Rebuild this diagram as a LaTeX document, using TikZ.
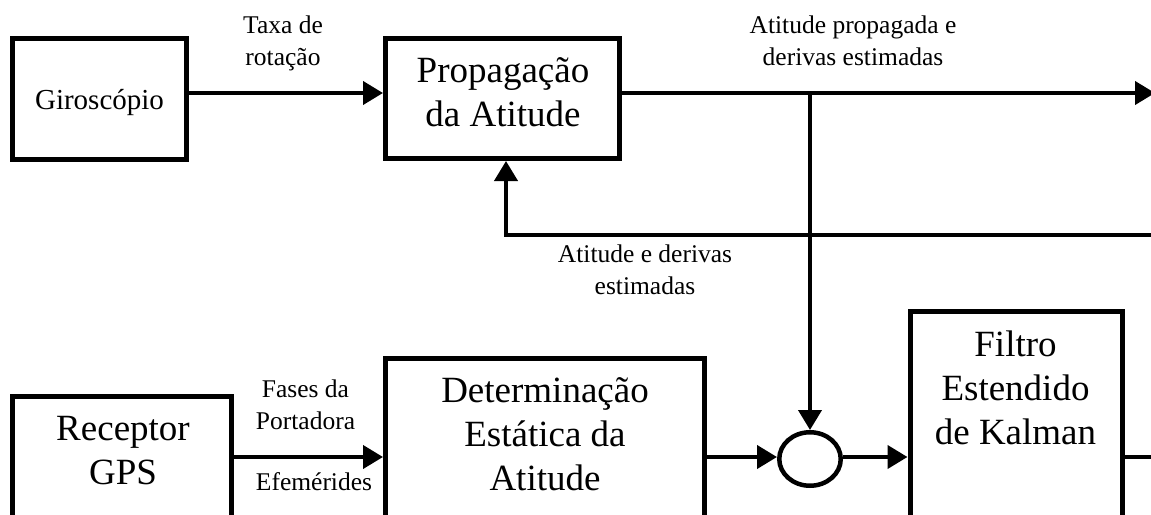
\documentclass[tikz,border=0pt]{standalone}
\usepackage{fontspec}
\setmainfont{Liberation Serif}
\usetikzlibrary{arrows.meta,shapes.geometric}
\tikzset{
  blk/.style={draw, line width=5pt, rectangle, inner sep=0pt},
  circnode/.style={draw, line width=4.5pt, ellipse, inner sep=0pt, minimum width=61.5pt, minimum height=53.5pt},
  wire/.style={line width=4pt},
  arr/.style={line width=4pt, -{Triangle[length=20pt,width=23pt]}},
  bigtxt/.style={font=\fontsize{37}{44}\selectfont, align=center, inner sep=0pt, anchor=north},
  labtxt/.style={font=\fontsize{25.5}{32}\selectfont, align=center, inner sep=0pt, anchor=north},
}
\begin{document}
\begin{tikzpicture}[x=1pt,y=-1pt]
\useasboundingbox (0,0) rectangle (1151,514);
\clip (0,0) rectangle (1151,514);
% boxes
\node[blk, minimum width=174pt, minimum height=121pt] (giro) at (99.5,99) {};
\node[blk, minimum width=233.5pt, minimum height=120pt] (prop) at (502.25,98.5) {};
\node[blk, minimum width=219pt, minimum height=164pt] (rec) at (122,478) {};
\node[blk, minimum width=319pt, minimum height=202pt] (det) at (545,459) {};
\node[blk, minimum width=212pt, minimum height=248.5pt] (fil) at (1016,435.75) {};
\node[circnode] (circ) at (810,459) {};
% box texts
\node[inner sep=0pt, anchor=base, font=\fontsize{29}{35}\selectfont] (tgiro) at (99.5,109) {Giroscópio};
\node[bigtxt] (tprop) at (503,51.2) {\strut Propagação\\\strut da Atitude};
\node[bigtxt] (trec) at (123,409.2) {\strut Receptor\\\strut GPS};
\node[bigtxt] (tdet) at (545,371.2) {\strut Determinação\\\strut Estática da\\\strut Atitude};
\node[bigtxt] (tfil) at (1015.5,325.2) {\strut Filtro\\\strut Estendido\\\strut de Kalman};
% labels
\node[labtxt] (ltaxa) at (283,10.6) {\strut Taxa de\\\strut rotação};
\node[labtxt] (lprop) at (853,10.6) {\strut Atitude propagada e\\\strut derivas estimadas};
\node[labtxt] (lfb) at (645,239.6) {\strut Atitude e derivas\\\strut estimadas};
\node[labtxt] (lfases) at (305.5,374.6) {\strut Fases da\\\strut Portadora};
\node[inner sep=0pt, anchor=base, font=\fontsize{25.5}{32}\selectfont] (lefem) at (314,490) {Efemérides};
% helper coordinates
\coordinate (yt) at (0,93);
\coordinate (yl) at (0,457);
\coordinate (outT) at (1155,93);
\coordinate (outR) at (1160,457);
\coordinate (split) at (810,93);
\coordinate (fbR) at (1160,235);
\coordinate (fbL) at (506,235);
% connectors
\draw[arr] (giro.east |- yt) -- (prop.west |- yt);
\draw[arr] (prop.east |- yt) -- (outT);
\draw[arr] (split) -- (circ.north);
\draw[arr] (fbR) -- (fbL) -- (prop.south -| fbL);
\draw[arr] (rec.east |- yl) -- (det.west |- yl);
\draw[arr] (det.east |- yl) -- (circ.west |- yl);
\draw[arr] (circ.east |- yl) -- (fil.west |- yl);
\draw[wire] (fil.east |- yl) -- (outR);
\end{tikzpicture}
\end{document}
